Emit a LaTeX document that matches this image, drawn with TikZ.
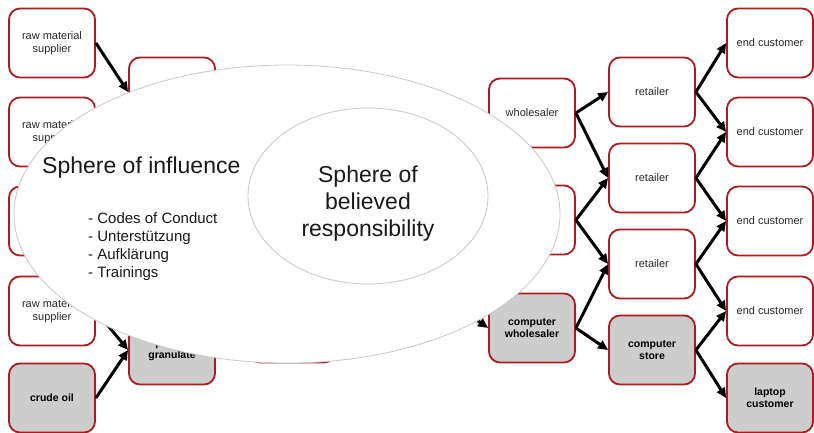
\documentclass[tikz,border=0pt]{standalone}
\usepackage{fontspec}
\setmainfont{Liberation Sans}
\usetikzlibrary{shapes.geometric,arrows.meta}
\definecolor{boxred}{RGB}{170,28,32}
\definecolor{boxgray}{RGB}{205,205,205}
\definecolor{ringgray}{RGB}{200,200,200}
\definecolor{textdark}{RGB}{40,40,40}
\begin{document}
\begin{tikzpicture}[x=1pt,y=-1pt,
  chainbox/.style={draw=boxred, line width=1.8pt, rounded corners=11pt,
    minimum width=86pt, minimum height=69pt, align=center, inner sep=2pt,
    font=\fontsize{11}{12.5}\selectfont, text=textdark},
  greybox/.style={chainbox, fill=boxgray,
    font=\fontsize{10.5}{12}\selectfont\bfseries, text=black},
  flow/.style={line width=3pt, -{Triangle[length=10pt,width=9pt]}},
  sphere/.style={ellipse, draw=ringgray, line width=0.8pt, fill=white, inner sep=0pt},
  bigtext/.style={inner sep=0pt, text=black!90, font=\fontsize{23}{27}\selectfont},
  listtext/.style={inner sep=0pt, text=black!90, align=left, font=\fontsize{15}{18.3}\selectfont}
]
\useasboundingbox (0,0) rectangle (814,432);
% column 1
\node[chainbox] (rm1) at (52,43) {raw material\\supplier};
\node[chainbox] (rm2) at (52,132) {raw material\\supplier};
\node[chainbox] (rm3) at (52,221) {raw material\\supplier};
\node[chainbox] (rm4) at (52,311) {raw material\\supplier};
\node[greybox] (crude) at (52,398) {crude oil};
% column 2
\node[chainbox] (sup) at (172,92) {supplier};
\node[greybox] (gran) at (172,350) {plastic\\granulate};
% column 3
\node[chainbox] (c2) at (292,220) {};
\node[chainbox] (c3) at (292,328) {};
% column 4
\node[chainbox] (whole) at (532,113) {wholesaler};
\node[chainbox] (w2) at (532,220) {};
\node[greybox] (cw) at (532,328) {computer\\wholesaler};
% column 5
\node[chainbox] (r1) at (652,92) {retailer};
\node[chainbox] (r2) at (652,178) {retailer};
\node[chainbox] (r3) at (652,264) {retailer};
\node[greybox] (cs) at (652,350) {computer\\store};
% column 6
\node[chainbox] (e1) at (770,43) {end customer};
\node[chainbox] (e2) at (770,132) {end customer};
\node[chainbox] (e3) at (770,221) {end customer};
\node[chainbox] (e4) at (770,311) {end customer};
\node[greybox] (lc) at (770,398) {laptop\\customer};
% connectors
\draw[flow] (rm1.east) -- (sup.west);
\draw[flow] (rm4.east) -- (gran.west);
\draw[flow] (crude.east) -- (gran.west);
\draw[flow] (c2.east) -- (cw.west);
\draw[flow] (whole.east) -- (r1.west);
\draw[flow] (whole.east) -- (r2.west);
\draw[flow] (w2.east) -- (r2.west);
\draw[flow] (w2.east) -- (r3.west);
\draw[flow] (cw.east) -- (r3.west);
\draw[flow] (cw.east) -- (cs.west);
\draw[flow] (r1.east) -- (e1.west);
\draw[flow] (r1.east) -- (e2.west);
\draw[flow] (r2.east) -- (e2.west);
\draw[flow] (r2.east) -- (e3.west);
\draw[flow] (r3.east) -- (e3.west);
\draw[flow] (r3.east) -- (e4.west);
\draw[flow] (cs.east) -- (e4.west);
\draw[flow] (cs.east) -- (lc.west);
% spheres
\node[sphere, minimum width=546pt, minimum height=298pt] (influence) at (287,214) {};
\node[sphere, minimum width=240pt, minimum height=176pt] (belief) at (368,196) {};
\node[bigtext, anchor=base west] (inftitle) at (42,173) {Sphere of influence};
\node[bigtext, align=center] (beltitle) at (368,204) {Sphere of\\believed\\responsibility};
\node[listtext, anchor=north west] (measures) at (88,212) {- Codes of Conduct\\- Unterstützung\\- Aufklärung\\- Trainings};
\end{tikzpicture}
\end{document}
